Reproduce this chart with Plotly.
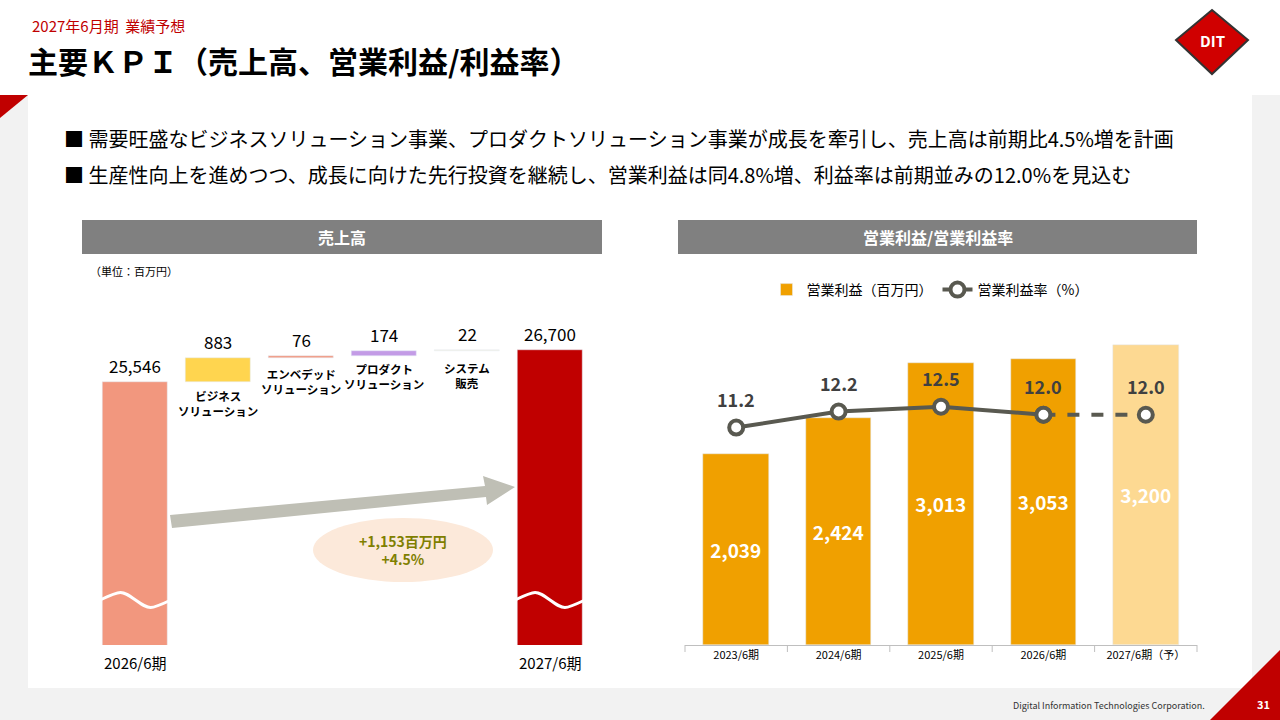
import plotly.graph_objects as go

W, H = 1280, 720
def px(x): return x / W
def py(y): return 1 - y / H

FONT = "Noto Sans CJK JP"

# ---- data ----
wf_cats = ["2026/6期", "ビジネス", "エンベデッド", "プロダクト", "システム", "2027/6期"]
wf_labels = ["", "ビジネス<br>ソリューション", "エンベデッド<br>ソリューション", "プロダクト<br>ソリューション", "システム<br>販売", ""]
wf_vals = [25546, 883, 76, 174, 22, 26700]
wf_text = ["25,546", "883", "76", "174", "22", "26,700"]
wf_colors = ["#F2977E", "#FFD54F", "#F2977E", "#C39BE6", "#F5F0DC", "#C00000"]

years = ["2023/6期", "2024/6期", "2025/6期", "2026/6期", "2027/6期（予）"]
op_income = [2039, 2424, 3013, 3053, 3200]
op_margin = [11.2, 12.2, 12.5, 12.0, 12.0]
bar_colors = ["#F0A000", "#F0A000", "#F0A000", "#F0A000", "#FDD992"]

bases, tops = [], []
run = wf_vals[0]
for i, v in enumerate(wf_vals):
    if i == 0 or i == len(wf_vals) - 1:
        bases.append(0); tops.append(v)
    else:
        bases.append(run); tops.append(run + v); run += v
heights = [t - b for t, b in zip(tops, bases)]

fig = go.Figure()
fig.add_trace(go.Bar(x=wf_cats, y=heights, base=bases, marker_color=wf_colors, width=0.78,
                     xaxis="x", yaxis="y", showlegend=False, hoverinfo="skip"))
fig.add_trace(go.Bar(x=years, y=op_income, marker_color=bar_colors, width=0.64,
                     text=[f"<b>{v:,}</b>" for v in op_income], textposition="inside",
                     insidetextanchor="middle", textangle=0,
                     textfont=dict(color="white", size=19, family=FONT),
                     name="営業利益（百万円）", xaxis="x2", yaxis="y2", hoverinfo="skip"))
fig.add_trace(go.Scatter(x=years[:4], y=op_margin[:4], mode="lines+markers",
                         line=dict(color="#595950", width=4),
                         marker=dict(size=14, color="white", line=dict(color="#595950", width=4)),
                         name="営業利益率（%）", xaxis="x2", yaxis="y3", hoverinfo="skip"))
fig.add_trace(go.Scatter(x=years[3:], y=op_margin[3:], mode="lines+markers",
                         line=dict(color="#595950", width=4, dash="dash"),
                         marker=dict(size=14, color="white", line=dict(color="#595950", width=4)),
                         showlegend=False, xaxis="x2", yaxis="y3", hoverinfo="skip"))

ann = []
shapes = []
def A(x, y, text, size, color="black", xanchor="center", yanchor="middle", **kw):
    ann.append(dict(x=x, y=y, xref=kw.pop("xref", "paper"), yref=kw.pop("yref", "paper"), text=text,
                    showarrow=False, xanchor=xanchor, yanchor=yanchor,
                    font=dict(size=size, color=color, family=FONT), **kw))

shapes.append(dict(type="rect", xref="paper", yref="paper", x0=0, x1=1, y0=0, y1=py(95),
                   fillcolor="#F2F2F2", line_width=0, layer="below"))
shapes.append(dict(type="rect", xref="paper", yref="paper", x0=px(28), x1=px(1252), y0=py(688), y1=py(95),
                   fillcolor="white", line_width=0, layer="below"))
shapes.append(dict(type="path", xref="paper", yref="paper",
                   path=f"M 0 {py(95)} L {px(28)} {py(95)} L 0 {py(118)} Z", fillcolor="#C00000", line_width=0))
shapes.append(dict(type="path", xref="paper", yref="paper",
                   path=f"M {px(1280)} {py(650)} L {px(1280)} {py(720)} L {px(1210)} {py(720)} Z",
                   fillcolor="#C00000", line_width=0))
shapes.append(dict(type="path", xref="paper", yref="paper",
                   path=f"M {px(1212)} {py(10)} L {px(1248)} {py(40)} L {px(1212)} {py(74)} L {px(1176)} {py(40)} Z",
                   fillcolor="#D00000", line=dict(color="#333", width=2)))
A(px(1212), py(40), "<b>DIT</b>", 15, "white")
for x0, x1, t in [(82, 602, "売上高"), (678, 1197, "営業利益/営業利益率")]:
    shapes.append(dict(type="rect", xref="paper", yref="paper", x0=px(x0), x1=px(x1), y0=py(254), y1=py(220),
                       fillcolor="#808080", line_width=0))
    A(px((x0 + x1) / 2), py(237), f"<b>{t}</b>", 16, "white")
A(px(30), py(26), "2027年6月期  業績予想", 15, "#C00000", xanchor="left")
A(px(26), py(60), "<b>主要ＫＰＩ（売上高、営業利益/利益率）</b>", 30, xanchor="left")
A(px(62), py(138), "■ 需要旺盛なビジネスソリューション事業、プロダクトソリューション事業が成長を牽引し、売上高は前期比4.5%増を計画",
  20, xanchor="left")
A(px(62), py(174), "■ 生産性向上を進めつつ、成長に向けた先行投資を継続し、営業利益は同4.8%増、利益率は前期並みの12.0%を見込む",
  20, xanchor="left")
A(px(88), py(271), "（単位：百万円）", 11, xanchor="left")
A(px(1207), py(705), "Digital Information Technologies Corporation.", 9, "#333", xanchor="right")
A(px(1263), py(704), "<b>31</b>", 11, "white")

for i, c in enumerate(wf_cats):
    A(c, tops[i], wf_text[i], 17, xref="x", yref="y", yanchor="bottom", yshift=2)
    if wf_labels[i]:
        A(c, tops[i], f"<b>{wf_labels[i]}</b>", 11.5, xref="x", yref="y", yanchor="top",
          yshift=-(28 if i == 1 else 8))
A(px(135), py(662), "2026/6期", 15)
A(px(550), py(662), "2027/6期", 15)
shapes.append(dict(type="path", xref="paper", yref="paper",
                   path=(f"M {px(170)} {py(515)} L {px(485)} {py(486)} L {px(483)} {py(476)} "
                         f"L {px(515)} {py(487)} L {px(487)} {py(505)} L {px(486)} {py(497)} "
                         f"L {px(172)} {py(528)} Z"), fillcolor="#BFBFB5", line_width=0))
shapes.append(dict(type="circle", xref="paper", yref="paper", x0=px(313), x1=px(493), y0=py(582), y1=py(518),
                   fillcolor="#FCE9DA", line_width=0))
A(px(403), py(550), "<b>+1,153百万円<br>+4.5%</b>", 14, "#7F7F00")
for x0, x1 in [(100, 171), (515, 585)]:
    w = x1 - x0
    path = (f"M {px(x0)} {py(600)} C {px(x0 + w*0.3)} {py(590)} {px(x0 + w*0.3)} {py(590)} {px(x0 + w*0.5)} {py(600)} "
            f"C {px(x0 + w*0.7)} {py(610)} {px(x0 + w*0.7)} {py(610)} {px(x1)} {py(600)}")
    shapes.append(dict(type="path", xref="paper", yref="paper", path=path, line=dict(color="white", width=3)))

for yr, m in zip(years, op_margin):
    A(yr, m, f"<b>{m:.1f}</b>", 18, "#404040", xref="x2", yref="y3", yanchor="bottom", yshift=14)
for k in range(6):
    xx = 685 + k * 102.4
    shapes.append(dict(type="line", xref="paper", yref="paper", x0=px(xx), x1=px(xx), y0=py(645), y1=py(652),
                       line=dict(color="#BFBFBF", width=1)))

fig.update_layout(
    width=W, height=H, margin=dict(l=0, r=0, t=0, b=0), paper_bgcolor="white", plot_bgcolor="rgba(0,0,0,0)",
    font=dict(family=FONT), barmode="overlay", bargap=0,
    xaxis=dict(domain=[px(93.5), px(591.5)], showticklabels=False, showgrid=False, zeroline=False, anchor="y"),
    yaxis=dict(domain=[py(645), py(330)], range=[16000, 27434], visible=False, anchor="x"),
    xaxis2=dict(domain=[px(685), px(1197)], showgrid=False, zeroline=False, anchor="y2",
                showline=True, linecolor="#BFBFBF", tickfont=dict(size=11, color="black"), ticks=""),
    yaxis2=dict(domain=[py(645), py(330)], range=[0, 3360], visible=False, anchor="x2"),
    yaxis3=dict(domain=[py(645), py(330)], range=[-2.4, 17.3], visible=False, overlaying="y2", anchor="x2"),
    legend=dict(orientation="h", x=px(930), xanchor="center", y=py(290), yanchor="middle",
                font=dict(size=14, color="black"), bgcolor="rgba(0,0,0,0)"),
    shapes=shapes, annotations=ann,
)
fig.write_html("out.html", config={"displayModeBar": False},
               post_script="document.body.style.margin='0';document.body.style.overflow='hidden';")
